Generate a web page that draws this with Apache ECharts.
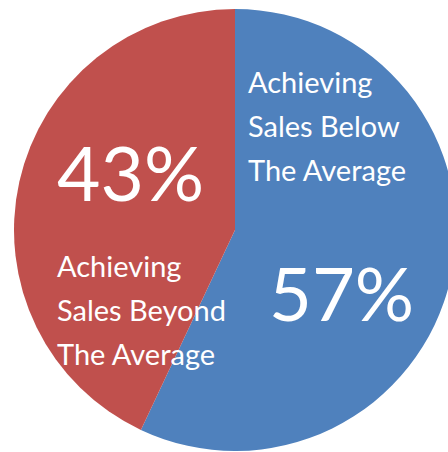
<!DOCTYPE html>
<html>
<head>
<meta charset="utf-8">
<script src="https://cdn.jsdelivr.net/npm/echarts@6/dist/echarts.min.js"></script>
<style>
  html, body { margin: 0; padding: 0; background: #fff; }
  #pie { width: 448px; height: 452px; }
</style>
</head>
<body>
<div id="pie"></div>
<script>
var names = ['Achieving\nSales Below\nThe Average', 'Achieving\nSales Beyond\nThe Average']
var values = [57, 43]
var colors = ['#4F81BD', '#C0504D']

var myChart = echarts.init(document.getElementById('pie'), null, { renderer: 'svg' })

// label block corners
var labelPos = [
  { x: 248, y: 59 },
  { x: 57, y: 101 }
]

var data = values.map(function(v, i) {
  return { name: names[i], value: v, itemStyle: { color: colors[i] } }
})

var option = {
  animation: false,
  series: [
    {
      type: 'pie',
      center: [235, 230],
      radius: 221,
      startAngle: 90,
      clockwise: true,
      silent: true,
      labelLine: { show: false },
      label: {
        show: true,
        position: 'inside',
        color: '#fff',
        fontFamily: 'Lato',
        align: 'left',
        formatter: function(p) {
          if (p.dataIndex === 0) {
            return '{n|' + p.name + '}\n{pb|' + Math.round(p.percent) + '%}'
          }
          return '{pr|' + Math.round(p.percent) + '%}\n{n|' + p.name + '}'
        },
        rich: {
          n: { fontSize: 29, lineHeight: 44, color: '#fff', fontFamily: 'Lato' },
          pb: { fontSize: 74, lineHeight: 202, color: '#fff', fontFamily: 'Lato', padding: [0, 0, 0, 21] },
          pr: { fontSize: 75, lineHeight: 142, color: '#fff', fontFamily: 'Lato' }
        }
      },
      labelLayout: function(params) {
        var pos = labelPos[params.dataIndex]
        return { x: pos.x, y: pos.y, align: 'left', verticalAlign: 'top' }
      },
      data: data
    }
  ]
}
myChart.setOption(option)
window.onresize = function() {
  myChart.resize()
}
</script>
</body>
</html>
